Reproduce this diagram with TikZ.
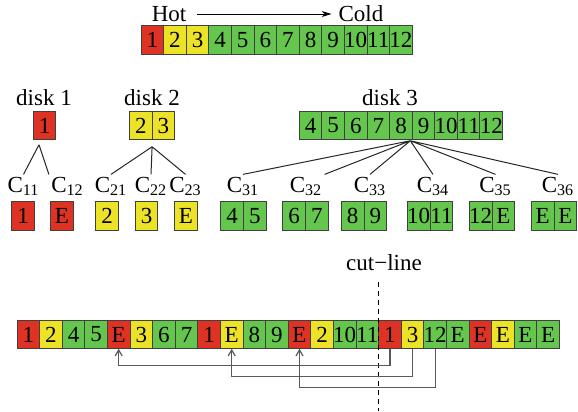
\documentclass[tikz,border=0pt]{standalone}
\usepackage{fontspec}
\setmainfont{Liberation Serif}
\usetikzlibrary{positioning, arrows.meta}

\definecolor{hotred}{RGB}{222,50,36}
\definecolor{warmyellow}{RGB}{236,226,40}
\definecolor{coldgreen}{RGB}{100,198,76}

\tikzset{
  blk/.style={draw=black!75, line width=0.5pt, minimum width=11.3pt, minimum height=14.25pt, inner sep=0pt, outer sep=0pt},
  cname/.style={anchor=base, inner sep=1pt},
  tree/.style={draw=black!85, line width=0.5pt},
  link/.style={draw=black!65, line width=0.6pt, -{Straight Barb[length=3pt,width=3.5pt]}},
}

\begin{document}
\begin{tikzpicture}[x=0.5pt, y=-0.5pt, font=\fontsize{11.5}{13}\selectfont]
\useasboundingbox (0,0) rectangle (578,412);

% order of the blocks, hot to cold
\node (hot)  at (169,14) {Hot};
\node (cold) at (361,14) {Cold};
\draw[-{Stealth[length=5pt,width=3pt]}, line width=0.5pt, shorten <=2pt] (hot) -- (cold);
\foreach \v/\c [count=\i] in {1/hotred, 2/warmyellow, 3/warmyellow, 4/coldgreen, 5/coldgreen, 6/coldgreen,
                              7/coldgreen, 8/coldgreen, 9/coldgreen, 10/coldgreen, 11/coldgreen, 12/coldgreen}
  \node[blk, fill=\c] (h\i) at (129.7+22.6*\i, 40) {\v};

% the three disks
\node (disk1) at (44,98) {disk 1};
\node[blk, fill=hotred] (d1) at (44.5,125.5) {1};

\node (disk2) at (152,98) {disk 2};
\node[blk, fill=warmyellow] (d2a) at (140.8,125.5) {2};
\node[blk, fill=warmyellow, right=0pt of d2a] (d2b) {3};

\node (disk3) at (390,98) {disk 3};
\foreach \v [count=\i] in {4,...,12}
  \node[blk, fill=coldgreen] (d3\i) at (288+22.6*\i, 125.5) {\v};

% chunks of each disk
\node[blk, fill=hotred] (b11) at (23,216) {1};
\node[blk, fill=hotred] (b12) at (62,216) {E};
\node[blk, fill=warmyellow] (b21) at (107,216) {2};
\node[blk, fill=warmyellow] (b22) at (146.5,216) {3};
\node[blk, fill=warmyellow] (b23) at (186,216) {E};
\foreach \x/\a/\b [count=\i] in {232.2/4/5, 294.2/6/7, 352.7/8/9, 418.7/10/11, 480.7/12/E, 542.7/E/E} {
  \node[blk, fill=coldgreen] (b3\i) at (\x,216) {\a};
  \node[blk, fill=coldgreen, right=0pt of b3\i] (b3\i r) {\b};
}
\foreach \n/\x in {11/23.5, 12/67.5, 21/111, 22/151, 23/185.5, 31/243, 32/306, 33/370, 34/433, 35/495.5, 36/558}
  \node[cname] (c\n) at (\x,192) {C\textsubscript{\n}};

\coordinate (t1) at ([xshift=-2.75pt, yshift=-2.5pt]d1.south);
\coordinate (t2) at ([yshift=-3.5pt]d2a.south east);
\coordinate (t3) at ([xshift=-1pt, yshift=-0.5pt]d35.south east);
\draw[tree] (t1) -- (c11.north) (t1) -- (c12.north west);
\draw[tree] (t2) -- (c21.north) (t2) -- (c22.north) (t2) -- (c23.north);
\draw[tree] (t3) -- (c31.north) (t3) -- (c32.north east) (t3) -- (c33.north)
            (t3) -- (c34.north) (t3) -- (c35.north) (t3) -- (c36.north);

% layout on the medium
\foreach \v/\c [count=\i] in {1/hotred, 2/warmyellow, 4/coldgreen, 5/coldgreen, E/hotred, 3/warmyellow,
                              6/coldgreen, 7/coldgreen, 1/hotred, E/warmyellow, 8/coldgreen, 9/coldgreen,
                              E/hotred, 2/warmyellow, 10/coldgreen, 11/coldgreen, 1/hotred, 3/warmyellow,
                              12/coldgreen, E/coldgreen, E/hotred, E/warmyellow, E/coldgreen, E/coldgreen}
  \node[blk, fill=\c] (r\i) at (5.7+22.6*\i, 334.5) {\v};

\node (cut) at (384,263) {cut−line};
\coordinate (cuttop) at (378,282);
\coordinate (cutbot) at (378,411);
\draw[dash pattern=on 2.5pt off 2pt, line width=0.5pt] (cuttop) -- (cutbot);

\draw[link] (r17.south) -- ++(0,17) -| (r5.south);
\draw[link] (r18.south) -- ++(0,28) -| (r10.south);
\draw[link] (r19.south) -- ++(0,39) -| (r13.south);
\end{tikzpicture}
\end{document}
